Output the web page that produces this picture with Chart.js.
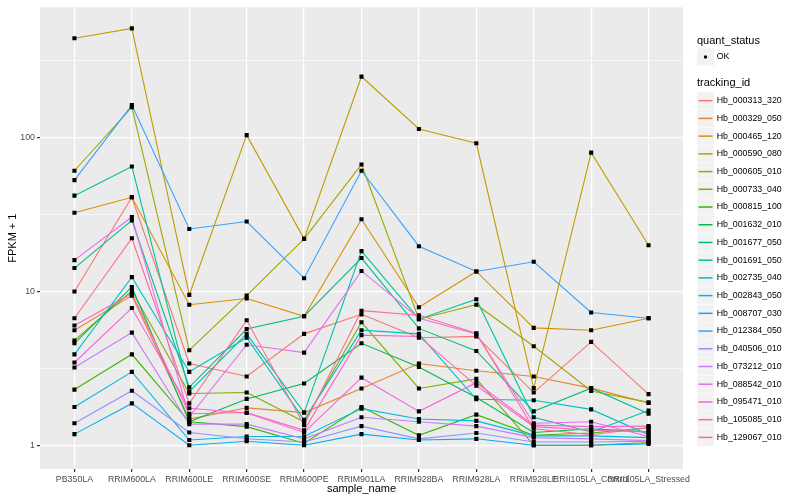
<!DOCTYPE html>
<html>
<head>
<meta charset="utf-8">
<script src="https://cdn.jsdelivr.net/npm/chart.js@4.4.1/dist/chart.umd.min.js"></script>
<style>
  body { margin: 0; background: #fff; }
  canvas { display: block; }
</style>
</head>
<body>
<canvas id="fpkmChart" width="800" height="500"></canvas>
<script>
const sampleNames = ['PB350LA', 'RRIM600LA', 'RRIM600LE', 'RRIM600SE', 'RRIM600PE', 'RRIM901LA',
  'RRIM928BA', 'RRIM928LA', 'RRIM928LE', 'RRII105LA_Control', 'RRII105LA_Stressed'];

const trackingIds = ['Hb_000313_320', 'Hb_000329_050', 'Hb_000465_120', 'Hb_000590_080', 'Hb_000605_010',
  'Hb_000733_040', 'Hb_000815_100', 'Hb_001632_010', 'Hb_001677_050', 'Hb_001691_050',
  'Hb_002735_040', 'Hb_002843_050', 'Hb_008707_030', 'Hb_012384_050', 'Hb_040506_010',
  'Hb_073212_010', 'Hb_088542_010', 'Hb_095471_010', 'Hb_105085_010', 'Hb_129067_010'];

// FPKM + 1, one array per tracking_id, in sampleNames order
const hb000313 = [10, 41, 3.4, 2.8, 5.3, 7.1, 5.0, 5.1, 2.2, 4.7, 2.15];
const hb000329 = [5.6, 9.4, 1.48, 1.75, 1.63, 2.34, 3.4, 3.05, 2.8, 2.35, 1.88];
const hb000465 = [32.5, 41, 8.2, 9.0, 6.9, 29.5, 7.9, 13.5, 5.8, 5.6, 6.7];
const hb000590 = [444, 515, 9.5, 104, 22, 250, 114, 92, 2.35, 80, 20];
const hb000605 = [61, 158, 4.15, 9.4, 22, 67, 6.6, 8.2, 4.4, 2.25, 1.9];
const hb000733 = [4.8, 10.1, 2.17, 2.2, 1.42, 6.3, 2.34, 2.7, 1.0, 1.0, 1.04];
const hb000815 = [2.3, 3.9, 1.42, 1.32, 1.03, 1.77, 1.16, 1.58, 1.16, 1.2, 1.3];
const hb001632 = [4.6, 10.7, 1.42, 2.0, 2.52, 4.6, 3.23, 2.04, 1.21, 1.28, 1.22];
const hb001677 = [14.2, 29, 2.38, 5.7, 6.9, 16.5, 5.75, 4.1, 1.66, 2.35, 1.6];
const hb001691 = [42, 65, 2.23, 5.3, 1.63, 18.3, 6.6, 8.9, 1.52, 1.22, 1.68];
const hb002735 = [3.9, 12.4, 3.0, 5.0, 1.46, 5.6, 5.3, 1.99, 1.96, 1.71, 1.17];
const hb002843 = [1.77, 3.0, 1.08, 1.14, 1.14, 1.73, 1.48, 1.44, 1.15, 1.15, 1.12];
const hb008707 = [1.18, 1.87, 1.0, 1.06, 1.0, 1.18, 1.08, 1.1, 1.0, 1.0, 1.02];
const hb012384 = [53, 163, 25.5, 28.5, 12.2, 61, 19.7, 13.5, 15.6, 7.3, 6.7];
const hb040506 = [1.39, 2.26, 1.21, 1.1, 1.05, 1.33, 1.1, 1.2, 1.05, 1.05, 1.06];
const hb073212 = [3.2, 5.4, 1.37, 1.37, 1.1, 1.52, 1.42, 1.33, 1.12, 1.1, 1.07];
const hb088542 = [16, 30.5, 1.53, 4.5, 4.0, 13.6, 6.7, 5.3, 1.39, 1.42, 1.14];
const hb095471 = [3.45, 7.8, 1.74, 1.62, 1.21, 2.75, 1.66, 2.55, 1.35, 1.32, 1.33];
const hb105085 = [6.0, 9.7, 1.6, 1.63, 1.25, 5.2, 5.1, 2.44, 1.32, 1.25, 1.22];
const hb129067 = [6.7, 22.2, 1.87, 6.5, 1.35, 7.5, 7.0, 5.35, 1.28, 1.17, 1.3];

const seriesValues = [hb000313, hb000329, hb000465, hb000590, hb000605, hb000733, hb000815, hb001632,
  hb001677, hb001691, hb002735, hb002843, hb008707, hb012384, hb040506, hb073212, hb088542,
  hb095471, hb105085, hb129067];

const yTicks = [1, 3.1623, 10, 31.623, 100, 316.23];
const yMajor = [1, 10, 100];

const hueColors = ['#F8766D', '#EA8331', '#D89000', '#C09B00', '#A3A500', '#7CAE00', '#39B600', '#00BB4E',
  '#00BF7D', '#00C1A3', '#00BFC4', '#00BAE0', '#00B0F6', '#35A2FF', '#9590FF', '#C77CFF', '#E76BF3',
  '#FA62DB', '#FF62BC', '#FF6C91'];

const datasets = seriesValues.map(function (vals, i) {
  return {
    label: trackingIds[i],
    data: vals.map(function (v, j) { return { x: j, y: v }; }),
    borderColor: hueColors[i],
    borderWidth: 1.1,
    pointRadius: 0,
    tension: 0,
    order: seriesValues.length - i  // later ids on top, like ggplot
  };
});

// all points in one layer above the lines
const allPoints = [];
seriesValues.forEach(function (vals) {
  vals.forEach(function (v, j) { allPoints.push({ x: j, y: v }); });
});
datasets.push({
  label: 'OK',
  data: allPoints,
  showLine: false,
  pointStyle: 'rect',
  pointRadius: 2.9,
  pointBackgroundColor: '#000',
  pointBorderWidth: 0,
  order: 0
});

const panelPlugin = {
  id: 'panel',
  beforeDraw: function (chart) {
    const a = chart.chartArea, c = chart.ctx;
    c.save();
    c.fillStyle = '#EBEBEB';
    c.fillRect(a.left, a.top, a.right - a.left, a.bottom - a.top);
    c.restore();
  },
  afterDraw: function (chart) {
    const c = chart.ctx;
    c.save();
    c.fillStyle = '#000';
    c.textBaseline = 'middle';
    c.font = '11px "Liberation Sans", Arial, sans-serif';
    c.textAlign = 'center';
    c.fillText('sample_name', (chart.chartArea.left + chart.chartArea.right) / 2, 489);
    c.save();
    c.translate(13, (chart.chartArea.top + chart.chartArea.bottom) / 2);
    c.rotate(-Math.PI / 2);
    c.fillText('FPKM + 1', 0, 0);
    c.restore();

    // legend
    c.textAlign = 'left';
    c.fillText('quant_status', 697, 41);
    c.fillStyle = '#F2F2F2';
    c.fillRect(697, 48.5, 17, 17);
    c.fillStyle = '#000';
    c.beginPath();
    c.arc(705.5, 57, 1.7, 0, Math.PI * 2);
    c.fill();
    c.font = '8.8px "Liberation Sans", Arial, sans-serif';
    c.fillText('OK', 716.7, 57);

    c.font = '11px "Liberation Sans", Arial, sans-serif';
    c.fillText('tracking_id', 697, 83.3);
    c.font = '8.8px "Liberation Sans", Arial, sans-serif';
    trackingIds.forEach(function (id, i) {
      const cy = 100.7 + i * 17.72;
      c.fillStyle = '#F2F2F2';
      c.fillRect(697, cy - 8.6, 17, 17.2);
      c.strokeStyle = hueColors[i];
      c.lineWidth = 1.5;
      c.beginPath();
      c.moveTo(698.5, cy);
      c.lineTo(712.5, cy);
      c.stroke();
      c.fillStyle = '#000';
      c.fillText(id, 716.7, cy);
    });
    c.restore();
  }
};

const ctx = document.getElementById('fpkmChart').getContext('2d');
const fpkmChart = new Chart(ctx, {
  type: 'line',
  data: { datasets: datasets },
  options: {
    responsive: false,
    animation: false,
    devicePixelRatio: 1,
    layout: { padding: { top: 5, right: 117, left: 0, bottom: 0 } },
    plugins: { legend: { display: false }, tooltip: { enabled: false } },
    scales: {
      x: {
        type: 'linear',
        min: -0.6,
        max: 10.6,
        afterBuildTicks: function (scale) {
          scale.ticks = sampleNames.map(function (n, i) { return { value: i }; });
        },
        afterFit: function (scale) { scale.height = 31; },
        border: { display: false },
        grid: { color: '#FFFFFF', lineWidth: 1.2, tickColor: '#333333', tickLength: 3 },
        ticks: {
          autoSkip: false,
          maxRotation: 0,
          minRotation: 0,
          padding: 2,
          color: '#4D4D4D',
          font: { family: '"Liberation Sans", Arial, sans-serif', size: 8.8 },
          callback: function (v) { return sampleNames[v]; }
        }
      },
      y: {
        type: 'logarithmic',
        min: 0.732,
        max: 706,
        afterBuildTicks: function (scale) {
          scale.ticks = yTicks.map(function (v) { return { value: v }; });
        },
        afterFit: function (scale) { scale.width = 40; },
        border: { display: false },
        grid: {
          color: '#FFFFFF',
          lineWidth: function (c) { return yMajor.indexOf(c.tick.value) >= 0 ? 1.2 : 0.6; },
          tickColor: function (c) { return yMajor.indexOf(c.tick.value) >= 0 ? '#333333' : 'rgba(0,0,0,0)'; },
          tickLength: 3
        },
        ticks: {
          padding: 2,
          color: '#4D4D4D',
          font: { family: '"Liberation Sans", Arial, sans-serif', size: 8.8 },
          callback: function (v) { return yMajor.indexOf(v) >= 0 ? String(v) : ''; }
        }
      }
    }
  },
  plugins: [panelPlugin]
});
</script>
</body>
</html>
